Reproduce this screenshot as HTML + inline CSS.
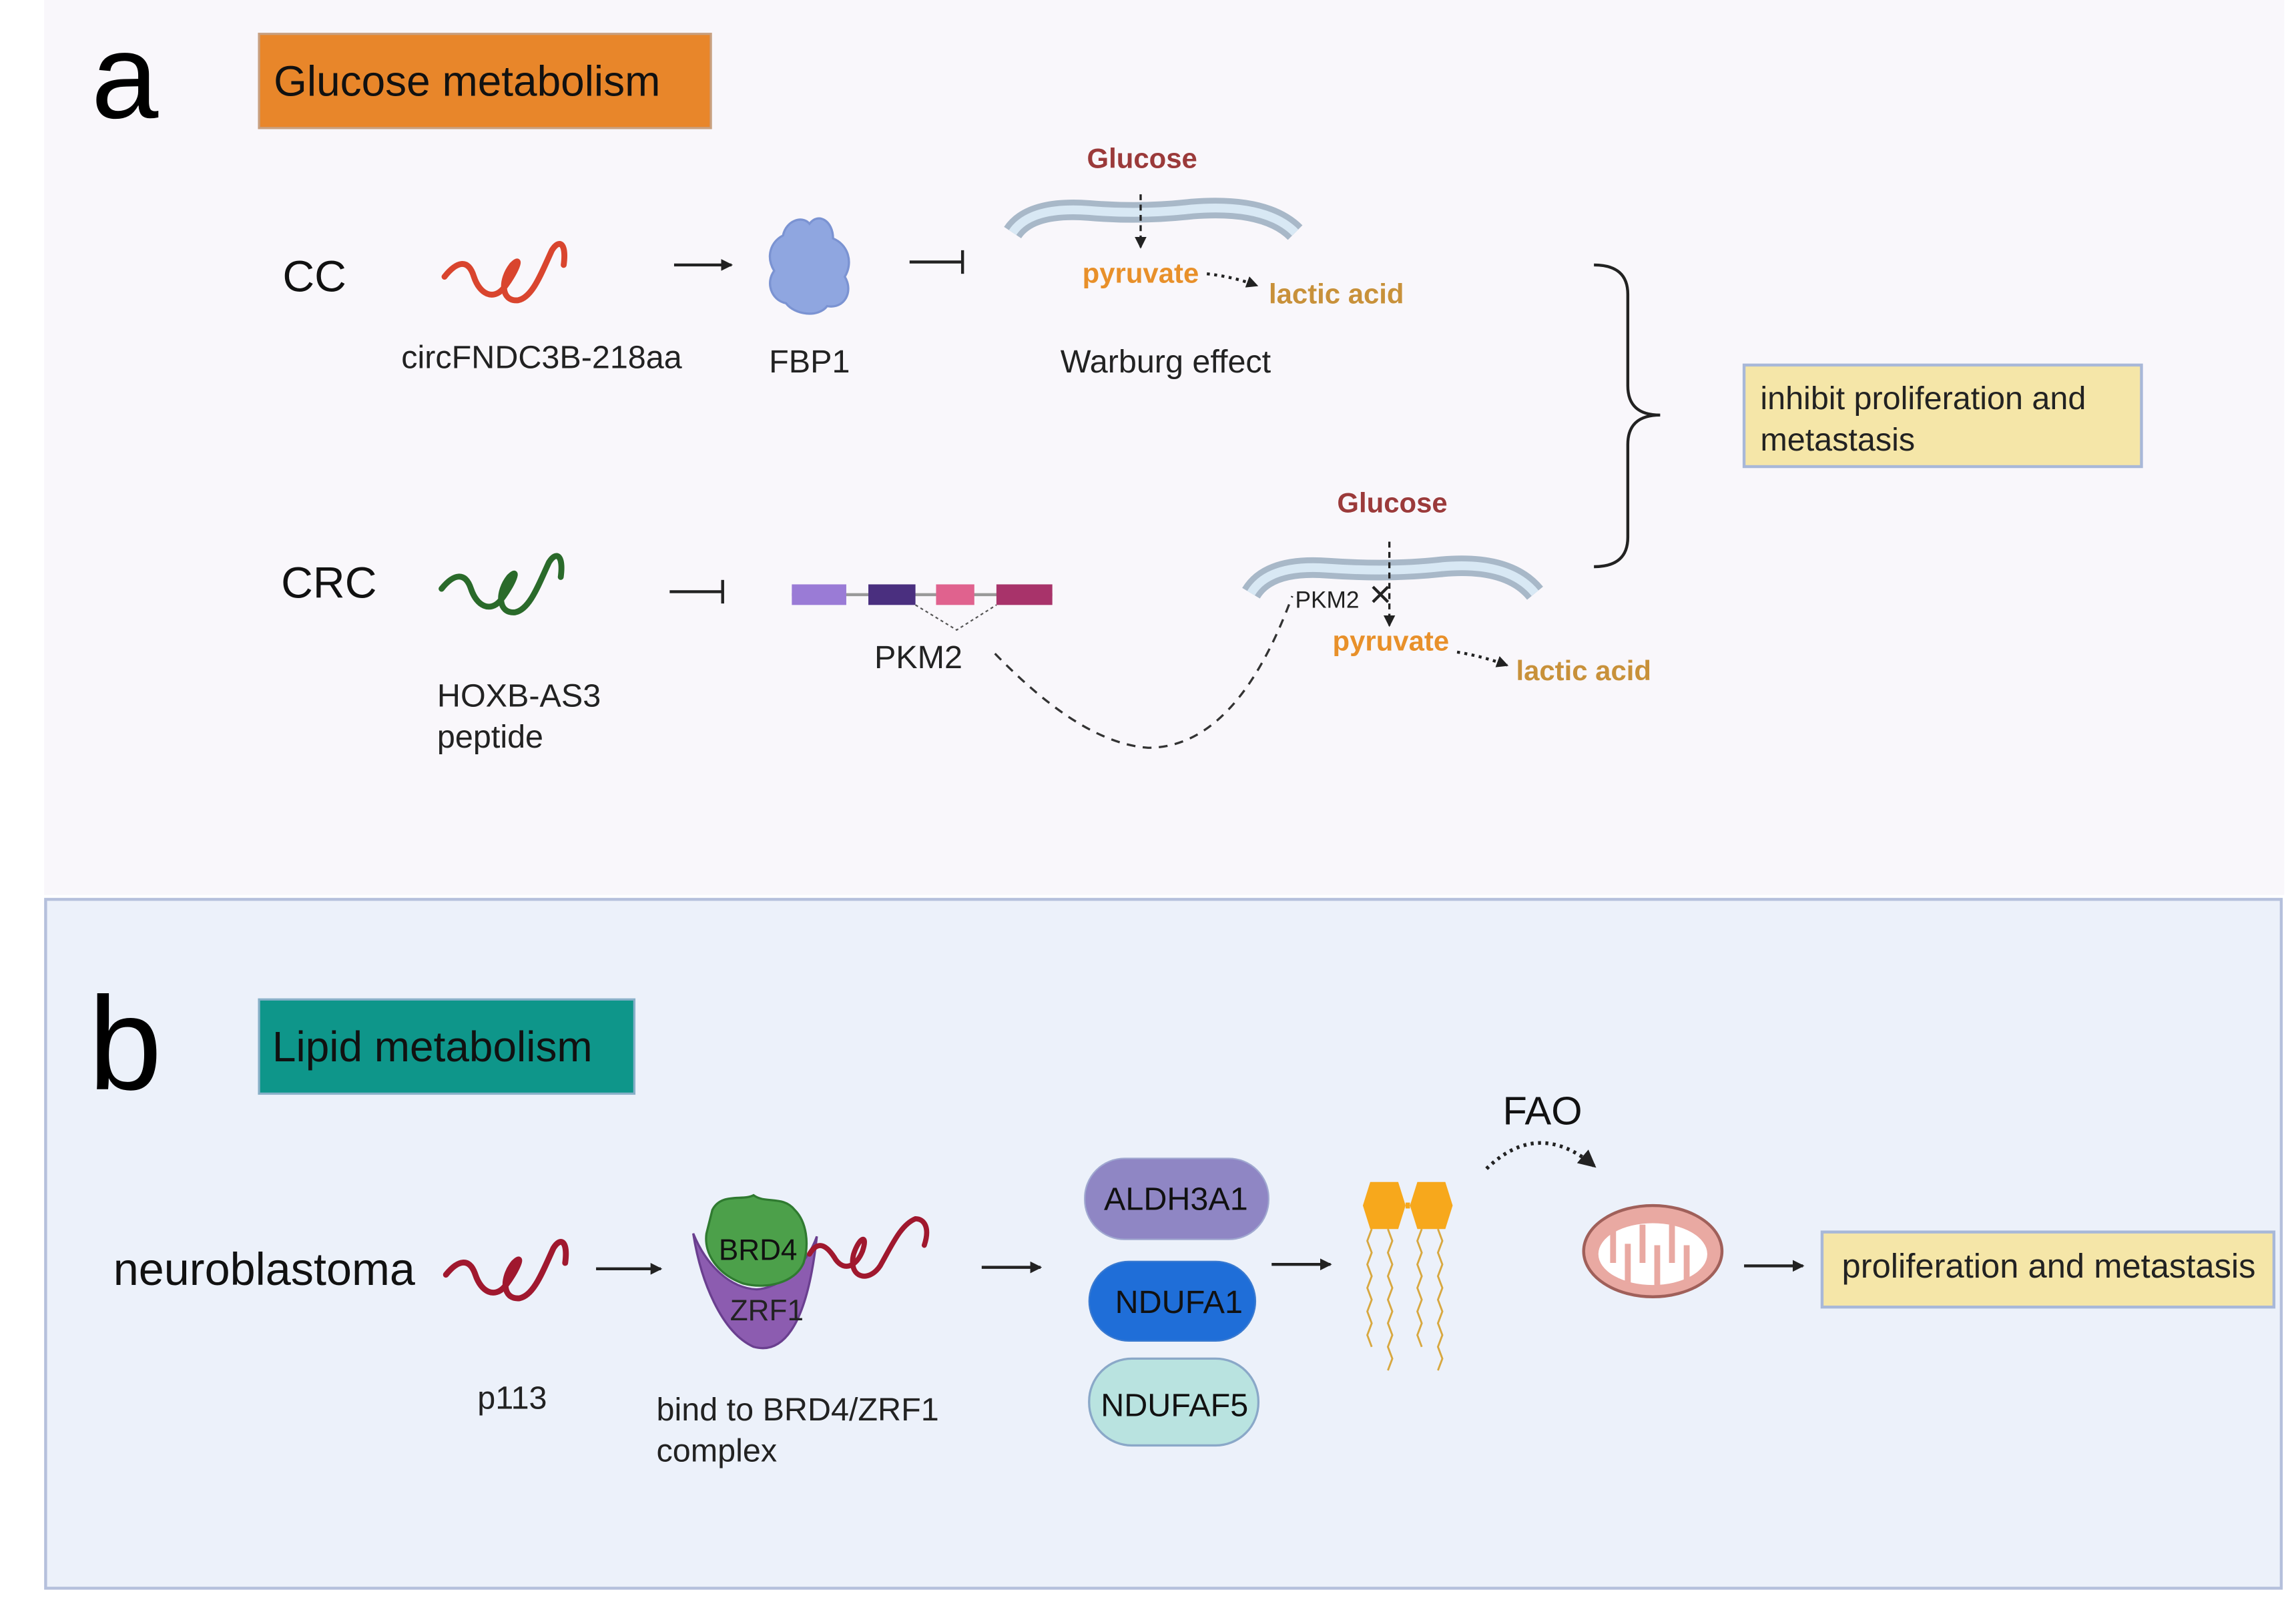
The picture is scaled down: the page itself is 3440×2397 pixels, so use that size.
<!DOCTYPE html>
<html><head><meta charset="utf-8"><style>
html,body{margin:0;padding:0;background:#fff;}
svg{display:block;}
text{font-family:"Liberation Sans",sans-serif;}
</style></head><body>
<svg width="3440" height="2397" viewBox="0 0 1560 1087" preserveAspectRatio="none" xmlns="http://www.w3.org/2000/svg">
<defs>
<marker id="ah" markerWidth="8" markerHeight="8" refX="7" refY="4" orient="auto" markerUnits="userSpaceOnUse"><path d="M0,0 L8,4 L0,8 z" fill="#222"/></marker>
<marker id="ah2" markerWidth="12" markerHeight="12" refX="10" refY="6" orient="auto" markerUnits="userSpaceOnUse"><path d="M0,0 L12,6 L0,12 z" fill="#222"/></marker>
</defs>
<rect x="0" y="0" width="1560" height="1087" fill="#fff"/>
<rect x="30" y="0" width="1522" height="608" fill="#f9f7fb"/>
<rect x="31" y="611" width="1519" height="468" fill="#ecf1fa" stroke="#b5c0dc" stroke-width="2"/>

<!-- Panel a -->
<text x="62" y="80" font-size="82" fill="#000">a</text>
<rect x="176" y="23" width="307" height="64" fill="#e8862a" stroke="#c8a080" stroke-width="1.5"/>
<text x="186" y="65" font-size="29" fill="#111">Glucose metabolism</text>

<text x="192" y="198" font-size="30" fill="#111">CC</text>
<path d="M302,188 C310,178 318,175 322,188 C326,200 335,204 342,196 C350,186 356,172 348,180 C340,190 340,205 352,204 C362,202 368,185 375,170 C380,162 385,165 383,180" fill="none" stroke="#d9452e" stroke-width="4" stroke-linecap="round"/>
<text x="368" y="250" font-size="22" text-anchor="middle" fill="#222">circFNDC3B-218aa</text>
<line x1="458" y1="180" x2="497" y2="180" stroke="#222" stroke-width="2" marker-end="url(#ah)"/>
<path d="M532,160 C534,150 545,146 550,152 C556,144 566,150 566,162 C576,166 580,178 574,188 C580,198 574,210 562,208 C556,216 540,214 534,206 C524,204 520,192 526,184 C520,174 524,164 532,160 z" fill="#8fa6e0" stroke="#7b93d2" stroke-width="1.5"/>
<text x="550" y="253" font-size="22" text-anchor="middle" fill="#222">FBP1</text>
<line x1="618" y1="178" x2="654" y2="178" stroke="#222" stroke-width="2"/>
<line x1="654" y1="170" x2="654" y2="186" stroke="#222" stroke-width="2"/>

<path d="M688,158 Q700,140 740,143 Q775,146 810,142 Q860,138 880,158" fill="none" stroke="#a8b8c8" stroke-width="14"/>
<path d="M688,158 Q700,140 740,143 Q775,146 810,142 Q860,138 880,158" fill="none" stroke="#d8e8f4" stroke-width="6"/>
<text x="776" y="114" font-size="19" font-weight="bold" text-anchor="middle" fill="#9b3a3a">Glucose</text>
<line x1="775" y1="132" x2="775" y2="168" stroke="#222" stroke-width="1.5" stroke-dasharray="4,3" marker-end="url(#ah)"/>
<text x="775" y="192" font-size="19" font-weight="bold" text-anchor="middle" fill="#e8902a">pyruvate</text>
<path d="M820,186 Q838,188 854,194" fill="none" stroke="#222" stroke-width="2" stroke-dasharray="2,3" marker-end="url(#ah)"/>
<text x="908" y="206" font-size="19" font-weight="bold" text-anchor="middle" fill="#c8913a">lactic acid</text>
<text x="792" y="253" font-size="22" text-anchor="middle" fill="#222">Warburg effect</text>

<path d="M1083,180 Q1106,180 1106,200 L1106,262 Q1106,282 1128,282 Q1106,282 1106,302 L1106,365 Q1106,385 1083,385" fill="none" stroke="#222" stroke-width="2"/>
<rect x="1185" y="248" width="270" height="69" fill="#f5e6a8" stroke="#a8b8d8" stroke-width="2"/>
<text x="1196" y="278" font-size="22" fill="#222">inhibit proliferation and</text>
<text x="1196" y="306" font-size="22" fill="#222">metastasis</text>

<text x="191" y="406" font-size="30" fill="#111">CRC</text>
<path d="M300,400 C308,390 316,388 320,400 C324,412 333,416 340,408 C348,398 354,384 346,392 C338,402 338,417 350,416 C360,414 366,397 373,382 C378,374 383,377 381,392" fill="none" stroke="#2a6a2a" stroke-width="4" stroke-linecap="round"/>
<text x="297" y="480" font-size="22" fill="#222">HOXB-AS3</text>
<text x="297" y="508" font-size="22" fill="#222">peptide</text>
<line x1="455" y1="402" x2="491" y2="402" stroke="#222" stroke-width="2"/>
<line x1="491" y1="394" x2="491" y2="410" stroke="#222" stroke-width="2"/>

<line x1="538" y1="404" x2="715" y2="404" stroke="#999" stroke-width="2"/>
<rect x="538" y="397" width="37" height="14" fill="#9a7bd6"/>
<rect x="590" y="397" width="32" height="14" fill="#4a2f7f"/>
<rect x="636" y="397" width="26" height="14" fill="#e0628e"/>
<rect x="677" y="397" width="38" height="14" fill="#a8336a"/>
<path d="M622,411 L650,428 L677,411" fill="none" stroke="#555" stroke-width="1" stroke-dasharray="2,2"/>
<text x="624" y="454" font-size="22" text-anchor="middle" fill="#222">PKM2</text>
<path d="M676,444 Q735,505 780,508 Q840,508 878,405" fill="none" stroke="#333" stroke-width="1.5" stroke-dasharray="6,5"/>

<path d="M850,403 Q862,383 902,386 Q945,389 980,385 Q1025,381 1043,403" fill="none" stroke="#a8b8c8" stroke-width="14"/>
<path d="M850,403 Q862,383 902,386 Q945,389 980,385 Q1025,381 1043,403" fill="none" stroke="#d8e8f4" stroke-width="6"/>
<text x="946" y="348" font-size="19" font-weight="bold" text-anchor="middle" fill="#9b3a3a">Glucose</text>
<line x1="944" y1="368" x2="944" y2="425" stroke="#222" stroke-width="1.5" stroke-dasharray="4,3" marker-end="url(#ah)"/>
<text x="880" y="413" font-size="16" fill="#222">PKM2</text>
<text x="938" y="411" font-size="20" text-anchor="middle" fill="#222">✕</text>
<text x="945" y="442" font-size="19" font-weight="bold" text-anchor="middle" fill="#e8902a">pyruvate</text>
<path d="M990,443 Q1008,446 1024,452" fill="none" stroke="#222" stroke-width="2" stroke-dasharray="2,3" marker-end="url(#ah)"/>
<text x="1076" y="462" font-size="19" font-weight="bold" text-anchor="middle" fill="#c8913a">lactic acid</text>

<!-- Panel b -->
<text x="60" y="740" font-size="90" fill="#000">b</text>
<rect x="176" y="679" width="255" height="64" fill="#0e968a" stroke="#88b0c8" stroke-width="1.5"/>
<text x="185" y="721" font-size="29" fill="#111">Lipid metabolism</text>

<text x="77" y="873" font-size="31" fill="#111">neuroblastoma</text>
<path d="M303,866 C311,856 319,854 323,866 C327,878 336,882 343,874 C351,864 357,850 349,858 C341,868 341,883 353,882 C363,880 369,863 376,848 C381,840 386,843 384,858" fill="none" stroke="#a0182e" stroke-width="4" stroke-linecap="round"/>
<text x="348" y="957" font-size="22" text-anchor="middle" fill="#222">p113</text>
<line x1="405" y1="862" x2="449" y2="862" stroke="#222" stroke-width="2" marker-end="url(#ah)"/>

<path d="M471,838 C476,870 490,905 512,915 C530,920 548,905 555,840 C548,860 530,875 514,876 C496,875 480,860 471,838 z" fill="#8c5cb0" stroke="#6a3f8f" stroke-width="1.5"/>
<path d="M484,822 C490,810 505,816 512,812 C520,818 532,812 540,822 C548,830 550,845 546,858 C540,872 520,876 505,872 C488,866 478,852 480,838 z" fill="#4ca04a" stroke="#2f7a30" stroke-width="1.5"/>
<path d="M550,852 C556,842 562,846 568,856 C574,864 582,860 586,850 C590,838 584,840 580,852 C576,868 590,872 598,860 C606,846 612,832 622,828 C628,828 632,834 628,846" fill="none" stroke="#a0182e" stroke-width="3.5" stroke-linecap="round"/>
<text x="515" y="856" font-size="20" text-anchor="middle" fill="#111">BRD4</text>
<text x="521" y="897" font-size="20" text-anchor="middle" fill="#222">ZRF1</text>
<text x="446" y="965" font-size="22" fill="#222">bind to BRD4/ZRF1</text>
<text x="446" y="993" font-size="22" fill="#222">complex</text>

<line x1="667" y1="861" x2="707" y2="861" stroke="#222" stroke-width="2" marker-end="url(#ah)"/>
<rect x="737" y="787" width="125" height="55" rx="27" fill="#8f86c4" stroke="#a0a8d0" stroke-width="1"/>
<text x="799" y="822" font-size="22" text-anchor="middle" fill="#111">ALDH3A1</text>
<rect x="740" y="857" width="113" height="54" rx="27" fill="#1f6ed8" stroke="#3a7ad0" stroke-width="1"/>
<text x="801" y="892" font-size="22" text-anchor="middle" fill="#111">NDUFA1</text>
<rect x="740" y="923" width="115" height="59" rx="29" fill="#b9e3e0" stroke="#8aa8c8" stroke-width="1.5"/>
<text x="798" y="962" font-size="22" text-anchor="middle" fill="#111">NDUFAF5</text>
<line x1="864" y1="859" x2="904" y2="859" stroke="#222" stroke-width="2" marker-end="url(#ah)"/>

<polygon points="931,803 950,803 955,819 950,835 931,835 926,819" fill="#f7a81c"/>
<polygon points="963,803 982,803 987,819 982,835 963,835 958,819" fill="#f7a81c"/>
<line x1="955" y1="819" x2="958" y2="819" stroke="#f7a81c" stroke-width="4"/>
<g fill="none" stroke="#d8a840" stroke-width="1.3">
<path d="M932,835 l-3,8 l3,8 l-3,8 l3,8 l-3,8 l3,8 l-3,8 l3,8 l-3,8 l3,8"/>
<path d="M943,835 l3,8 l-3,8 l3,8 l-3,8 l3,8 l-3,8 l3,8 l-3,8 l3,8 l-3,8 l3,8 l-3,8"/>
<path d="M966,835 l-3,8 l3,8 l-3,8 l3,8 l-3,8 l3,8 l-3,8 l3,8 l-3,8 l3,8"/>
<path d="M977,835 l3,8 l-3,8 l3,8 l-3,8 l3,8 l-3,8 l3,8 l-3,8 l3,8 l-3,8 l3,8 l-3,8"/>
</g>

<text x="1048" y="764" font-size="27" text-anchor="middle" fill="#111">FAO</text>
<path d="M1010,794 Q1045,760 1083,792" fill="none" stroke="#222" stroke-width="2.5" stroke-dasharray="2,3" marker-end="url(#ah2)"/>

<ellipse cx="1123" cy="850" rx="47" ry="31" fill="#e9a9a2" stroke="#a0605a" stroke-width="2"/>
<ellipse cx="1123" cy="852" rx="37" ry="21" fill="#fff"/>
<g stroke="#e9a9a2" stroke-width="4">
<line x1="1096" y1="835" x2="1096" y2="858"/><line x1="1106" y1="845" x2="1106" y2="872"/>
<line x1="1116" y1="832" x2="1116" y2="858"/><line x1="1126" y1="846" x2="1126" y2="873"/>
<line x1="1136" y1="832" x2="1136" y2="858"/><line x1="1146" y1="846" x2="1146" y2="870"/>
</g>
<line x1="1185" y1="860" x2="1225" y2="860" stroke="#222" stroke-width="2" marker-end="url(#ah)"/>
<rect x="1238" y="837" width="307" height="51" fill="#f5e6a8" stroke="#a8b8d8" stroke-width="2"/>
<text x="1392" y="868" font-size="23" text-anchor="middle" fill="#222">proliferation and metastasis</text>
</svg>
</body></html>
